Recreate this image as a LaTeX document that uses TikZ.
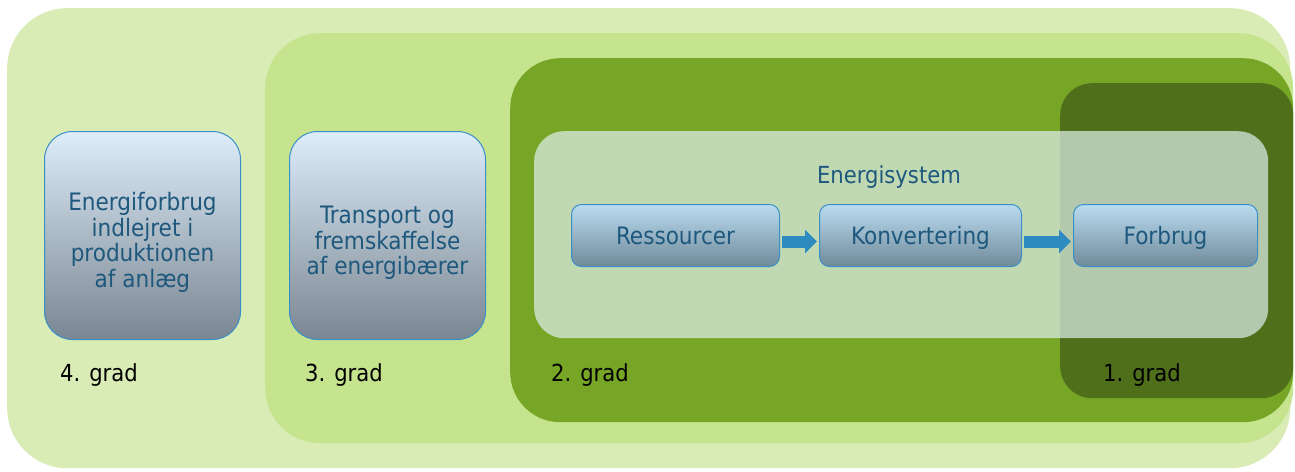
\documentclass[tikz,border=0pt]{standalone}
\usepackage{fontspec}
\setmainfont{DejaVu Sans Condensed}
\usetikzlibrary{arrows.meta,positioning}
\definecolor{ring4}{RGB}{217,236,181}
\definecolor{ring3}{RGB}{197,228,141}
\definecolor{ring2}{RGB}{119,166,38}
\definecolor{ring1}{RGB}{79,111,26}
\definecolor{panel}{RGB}{223,239,238}
\definecolor{boxline}{RGB}{58,143,200}
\definecolor{boxtext}{RGB}{30,88,125}
\definecolor{flow}{RGB}{46,139,192}
\newcommand\toppad{\rule{0pt}{32pt}}
\begin{document}
\begin{tikzpicture}[x=1pt,y=-1pt,
	zone/.style={inner sep=0pt, anchor=north west},
	bigbox/.style={zone, draw=boxline, line width=1pt, rounded corners=28pt, top color={rgb,255:red,221;green,237;blue,249}, bottom color={rgb,255:red,122;green,134;blue,146}, text=boxtext, align=center, font=\fontsize{24}{25.7}\selectfont, minimum width=196pt, minimum height=208pt},
	stepbox/.style={zone, draw=boxline, line width=1pt, rounded corners=10pt, top color={rgb,255:red,186;green,220;blue,240}, bottom color={rgb,255:red,112;green,138;blue,154}, text=boxtext, font=\fontsize{24}{26}\selectfont, minimum height=62pt, text height=17pt, text depth=-6pt},
	grad/.style={anchor=west, inner sep=0pt, font=\fontsize{23.5}{26}\selectfont},
	flowarrow/.style={draw=flow, line width=12pt, shorten <=2pt, shorten >=2pt, -{Triangle[length=12pt,width=23pt]}}]
	\useasboundingbox (0,0) rectangle (1295,471);
	% nested zones
	\node[zone, fill=ring4, rounded corners=60pt, minimum width=1283pt, minimum height=460pt] (z4) at (7,8) {};
	\node[zone, fill=ring3, rounded corners=55pt, minimum width=1028pt, minimum height=410pt] (z3) at (265,33) {};
	\node[zone, fill=ring2, rounded corners=50pt, minimum width=783pt, minimum height=364pt] (z2) at (510,58) {};
	\node[zone, fill=ring1, rounded corners=32pt, minimum width=233pt, minimum height=315pt] (z1) at (1060,83) {};
	\node[zone, fill=panel, fill opacity=0.7, rounded corners=30pt, minimum width=734pt, minimum height=207pt] (sys) at (534,131) {};
	% boxes
	\node[bigbox] (emb) at (44,131) {\toppad Energiforbrug\\indlejret i\\produktionen\\af anlæg};
	\node[bigbox] (trans) at (289,131) {\toppad Transport og\\fremskaffelse\\af energibærer};
	\node[text=boxtext, font=\fontsize{23.5}{26}\selectfont] (systxt) at (889,177) {Energisystem};
	\node[stepbox, minimum width=208pt] (res) at (571,204) {Ressourcer};
	\node[stepbox, minimum width=202pt] (konv) at (819,204) {Konvertering};
	\node[stepbox, minimum width=184pt] (forb) at (1073,204) {Forbrug};
	\draw[flowarrow] ([yshift=-6pt]res.east) -- ([yshift=-6pt]konv.west);
	\draw[flowarrow] ([yshift=-6pt]konv.east) -- ([yshift=-6pt]forb.west);
	% labels
	\node[grad] (g4) at (60,375) {4. grad};
	\node[grad] (g3) at (305,375) {3. grad};
	\node[grad] (g2) at (551,375) {2. grad};
	\node[grad] (g1) at (1103,375) {1. grad};
\end{tikzpicture}
\end{document}
